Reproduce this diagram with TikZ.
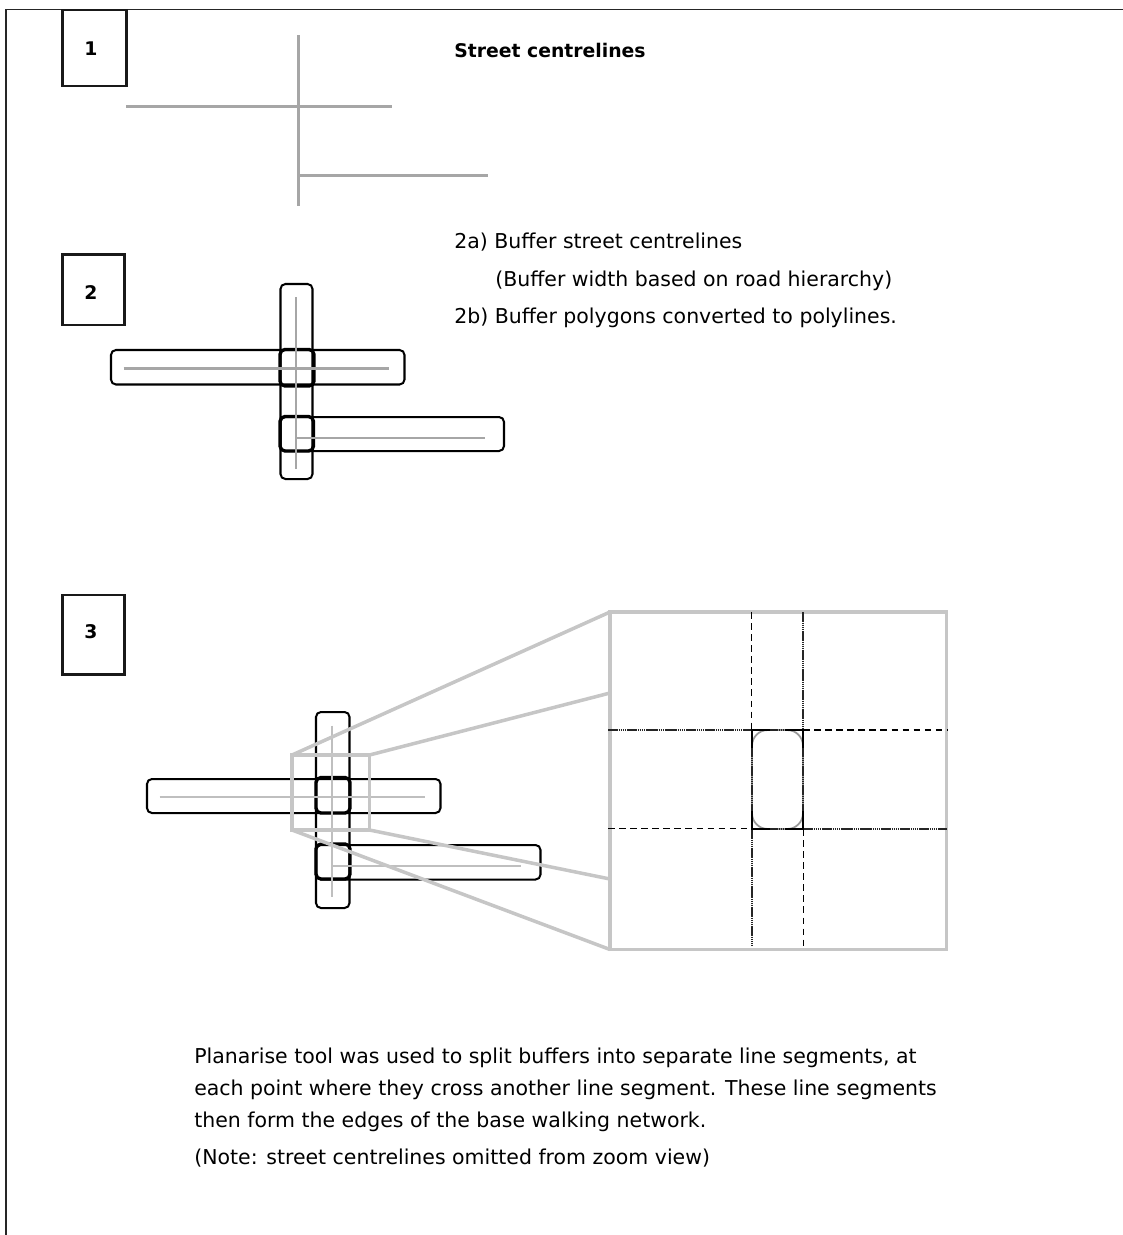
\documentclass[tikz,border=0pt]{standalone}
\usepackage{fontspec}
\setmainfont{DejaVu Sans}
\tikzset{
  frameline/.style={line width=1pt, black!85},
  stepbox/.style={line width=1.2pt, black!90},
  street/.style={line width=1.15pt, gray!70},
  streetlight/.style={line width=1.15pt, gray!50},
  buffer/.style={line width=1.15pt, rounded corners=2.8pt, black},
  junction/.style={line width=1.9pt, rounded corners=2.8pt, black},
  zoomline/.style={line width=2pt, gray!45, line join=miter},
  solidedge/.style={line width=0.65pt, black!85, dash pattern=on 0.9pt off 0.3pt},
  dashedge/.style={line width=1.1pt, black, dash pattern=on 3.7pt off 2.6pt},
  label/.style={anchor=base west, inner sep=0pt, font=\fontsize{11.65}{13}\selectfont},
  steptext/.style={label, font=\fontsize{10.7}{13}\selectfont\bfseries},
}
\begin{document}
\begin{tikzpicture}[x=0.02cm, y=-0.02cm]
  \useasboundingbox (0,0) rectangle (1123,1235);
  % page frame
  \draw[frameline] (6,1235) -- (6,9.5) -- (1123,9.5);
  % step boxes
  \draw[stepbox] (62.5,10) rectangle (126.5,86);
  \draw[stepbox] (62.5,254.5) rectangle (124.5,325);
  \draw[stepbox] (62.5,595) rectangle (124.5,674.5);
  \node[steptext] (stepone) at (84,55) {1};
  \node[steptext] (steptwo) at (84,299) {2};
  \node[steptext] (stepthree) at (84,638) {3};
  % step 1 centrelines
  \draw[street] (298.5,35) -- (298.5,206);
  \draw[street] (126,106.5) -- (392,106.5);
  \draw[street] (298.5,175.5) -- (488,175.5);
  \node[steptext] (title) at (454,57) {Street centrelines};
  % step 2 buffers
  \draw[buffer] (280.5,284) rectangle (312.5,479);
  \draw[buffer] (111,350) rectangle (404.5,384.5);
  \draw[buffer] (280.5,417) rectangle (504,451);
  \draw[junction] (280,349.5) rectangle (314,386);
  \draw[junction] (280,416.5) rectangle (313.5,451);
  \draw[street] (296,297) -- (296,469);
  \draw[street] (123.5,368.5) -- (389,368.5);
  \draw[street] (296,437.5) -- (485,437.5);
  \node[label] (bufa) at (454,248) {2a) Buffer street centrelines};
  \node[label] (bufb) at (495,286) {(Buffer width based on road hierarchy)};
  \node[label] (bufc) at (454,323) {2b) Buffer polygons converted to polylines.};
  % step 3 buffers
  \draw[buffer] (316,712) rectangle (349.5,908);
  \draw[buffer] (147,779) rectangle (440.5,813);
  \draw[buffer] (316,845) rectangle (540.5,879.5);
  \draw[junction] (316,777.5) rectangle (350,813);
  \draw[junction] (316,844) rectangle (350,879);
  \draw[streetlight] (332,725.5) -- (332,897);
  \draw[streetlight] (159.5,797) -- (425,797);
  \draw[streetlight] (332,865.5) -- (521,865.5);
  % zoom frame and rays
  \draw[zoomline] (292,755) rectangle (369.5,830);
  \draw[zoomline] (610,612) rectangle (946.5,949.5);
  \draw[zoomline] (292,755) -- (610,612);
  \draw[zoomline] (369.5,755) -- (610,693);
  \draw[zoomline] (369.5,830) -- (610,879);
  \draw[zoomline] (292,830) -- (610,949.5);
  % zoom view: split segments
  \draw[dashedge] (751.5,612) -- (751.5,730);
  \draw[solidedge] (803,612) -- (803,730);
  \draw[solidedge] (608,730) -- (752,730);
  \draw[dashedge] (803,730) -- (947,730);
  \draw[dashedge] (608,828.5) -- (752,828.5);
  \draw[solidedge] (803,829) -- (947,829);
  \draw[solidedge] (752,829) -- (752,945);
  \draw[dashedge] (803.5,829) -- (803.5,949);
  \draw[line width=1pt, gray!80, rounded corners=9pt] (752,730) rectangle (803,829);
  \draw[solidedge] (752,747) -- (752,812) (803,747) -- (803,812);
  \draw[solidedge] (768,730) -- (787,730) (768,829) -- (787,829);
  \foreach \cx/\cy/\dx/\dy in {752/730/1/1, 803/730/-1/1, 752/829/1/-1, 803/829/-1/-1}{
    \draw[line width=0.9pt] (\cx+\dx*18,\cy) -- (\cx,\cy) -- (\cx,\cy+\dy*18);
  }
  % note
  \node[label] (notea) at (194,1063) {Planarise tool was used to split buffers into separate line segments, at};
  \node[label] (noteb) at (194,1095) {each point where they cross another line segment. These line segments};
  \node[label] (notec) at (194,1127) {then form the edges of the base walking network.};
  \node[label] (noted) at (194,1164) {(Note: street centrelines omitted from zoom view)};
\end{tikzpicture}
\end{document}
